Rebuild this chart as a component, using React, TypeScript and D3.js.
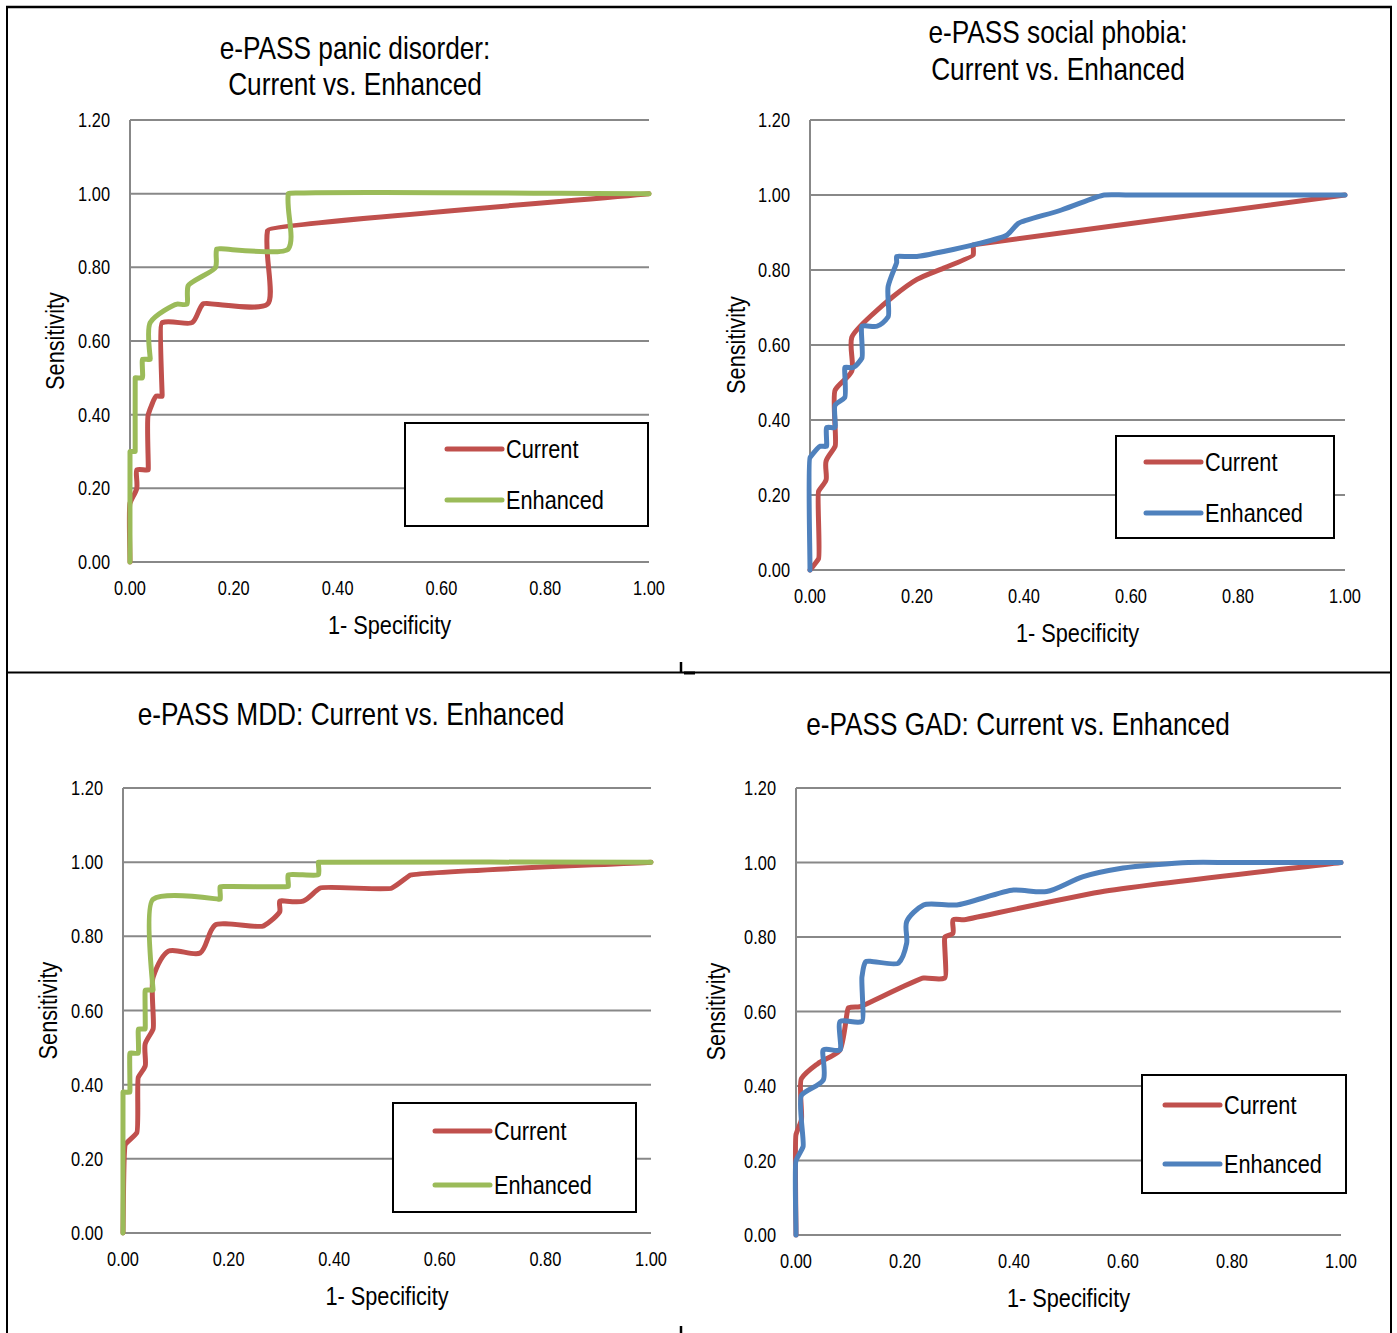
import React from "react";
import * as d3 from "d3";

// ROC points: [1 - specificity, sensitivity]
const panicCurrent: [number, number][] = [
  [0, 0], [0, 0.16], [0.013, 0.2], [0.013, 0.25], [0.035, 0.25], [0.035, 0.4],
  [0.05, 0.45], [0.062, 0.45], [0.062, 0.65], [0.12, 0.65], [0.14, 0.7],
  [0.265, 0.7], [0.265, 0.9], [1, 1],
];
const panicEnhanced: [number, number][] = [
  [0, 0], [0, 0.3], [0.01, 0.3], [0.01, 0.5], [0.024, 0.5], [0.024, 0.55],
  [0.039, 0.55], [0.039, 0.65], [0.09, 0.7], [0.11, 0.7], [0.112, 0.75],
  [0.165, 0.8], [0.167, 0.85], [0.305, 0.85], [0.305, 1.0], [1, 1],
];
const socialCurrent: [number, number][] = [
  [0, 0], [0.016, 0.03], [0.016, 0.21], [0.03, 0.24], [0.03, 0.29],
  [0.047, 0.33], [0.047, 0.48], [0.078, 0.53], [0.078, 0.62], [0.156, 0.73],
  [0.2, 0.775], [0.25, 0.805], [0.305, 0.84], [0.305, 0.867], [1, 1],
];
const socialEnhanced: [number, number][] = [
  [0, 0], [0, 0.3], [0.019, 0.33], [0.031, 0.33], [0.031, 0.38], [0.047, 0.38],
  [0.047, 0.44], [0.065, 0.46], [0.065, 0.54], [0.081, 0.54], [0.097, 0.565],
  [0.097, 0.65], [0.125, 0.65], [0.146, 0.675], [0.146, 0.756], [0.162, 0.82],
  [0.162, 0.836], [0.2, 0.836], [0.305, 0.867], [0.368, 0.893], [0.389, 0.924],
  [0.47, 0.96], [0.55, 1.0], [0.59, 1.0], [1, 1],
];
const mddCurrent: [number, number][] = [
  [0, 0], [0.005, 0.24], [0.026, 0.27], [0.029, 0.42], [0.042, 0.45],
  [0.042, 0.51], [0.057, 0.55], [0.057, 0.69], [0.086, 0.76], [0.146, 0.755],
  [0.174, 0.83], [0.266, 0.828], [0.297, 0.867], [0.297, 0.895], [0.341, 0.895],
  [0.373, 0.93], [0.509, 0.93], [0.544, 0.965], [1, 1],
];
const mddEnhanced: [number, number][] = [
  [0, 0], [0, 0.38], [0.013, 0.38], [0.013, 0.485], [0.029, 0.485],
  [0.029, 0.55], [0.042, 0.55], [0.042, 0.655], [0.057, 0.655], [0.057, 0.9],
  [0.184, 0.9], [0.184, 0.934], [0.313, 0.934], [0.313, 0.966], [0.37, 0.966],
  [0.37, 1.0], [1, 1],
];
const gadCurrent: [number, number][] = [
  [0, 0], [0, 0.27], [0.01, 0.31], [0.01, 0.42], [0.04, 0.46], [0.08, 0.495],
  [0.096, 0.61], [0.117, 0.613], [0.234, 0.69], [0.273, 0.69], [0.273, 0.8],
  [0.288, 0.81], [0.288, 0.846], [0.307, 0.846], [0.558, 0.921], [1, 1],
];
const gadEnhanced: [number, number][] = [
  [0, 0], [0, 0.2], [0.013, 0.237], [0.01, 0.375], [0.05, 0.416], [0.05, 0.497],
  [0.081, 0.497], [0.081, 0.573], [0.121, 0.573], [0.121, 0.693], [0.128, 0.734],
  [0.188, 0.73], [0.203, 0.783], [0.203, 0.841], [0.234, 0.886], [0.295, 0.886],
  [0.399, 0.926], [0.46, 0.922], [0.527, 0.962], [0.6, 0.985], [0.72, 1.0],
  [0.8, 1.0], [1, 1],
];

const yTicks = [0, 0.2, 0.4, 0.6, 0.8, 1.0, 1.2];
const xTicks = [0, 0.2, 0.4, 0.6, 0.8, 1.0];
const seriesNames = ["Current", "Enhanced"];

const RED = "#C0504D";
const GREEN = "#9BBB59";
const BLUE = "#4F81BD";
const GRID = "#888888";
const FONT = '"Liberation Sans", Arial, sans-serif';
const NARROW = 0.82; // Arial Narrow look

type PanelCfg = {
  title: string[];
  titleX: number;
  titleY: number[];
  plot: { x0: number; x1: number; top: number; bottom: number };
  yTitleX: number;
  legend: { x: number; y: number; w: number; h: number; rows: number[]; lx: number };
  series: [number, number][][];
  colors: string[];
};

const panels: PanelCfg[] = [
  {
    title: ["e-PASS panic disorder:", "Current vs. Enhanced"],
    titleX: 355, titleY: [48, 84],
    plot: { x0: 130, x1: 649, top: 120, bottom: 562 },
    yTitleX: 55,
    legend: { x: 405, y: 423, w: 243, h: 103, rows: [449, 500], lx: 447 },
    series: [panicCurrent, panicEnhanced],
    colors: [RED, GREEN],
  },
  {
    title: ["e-PASS social phobia:", "Current vs. Enhanced"],
    titleX: 1058, titleY: [32, 69],
    plot: { x0: 810, x1: 1345, top: 120, bottom: 570 },
    yTitleX: 736,
    legend: { x: 1116, y: 436, w: 218, h: 102, rows: [462, 513], lx: 1146 },
    series: [socialCurrent, socialEnhanced],
    colors: [RED, BLUE],
  },
  {
    title: ["e-PASS MDD: Current vs. Enhanced"],
    titleX: 351, titleY: [714],
    plot: { x0: 123, x1: 651, top: 788, bottom: 1233 },
    yTitleX: 48,
    legend: { x: 393, y: 1103, w: 243, h: 109, rows: [1131, 1185], lx: 435 },
    series: [mddCurrent, mddEnhanced],
    colors: [RED, GREEN],
  },
  {
    title: ["e-PASS GAD: Current vs. Enhanced"],
    titleX: 1018, titleY: [724],
    plot: { x0: 796, x1: 1341, top: 788, bottom: 1235 },
    yTitleX: 716,
    legend: { x: 1142, y: 1075, w: 204, h: 118, rows: [1105, 1164], lx: 1165 },
    series: [gadCurrent, gadEnhanced],
    colors: [RED, BLUE],
  },
];

// Excel-like smoothed line: cubic Bezier; the tangent at each point leans
// toward the shorter neighbouring segment, handles stay short and shrink
// when they point away from their segment
function smoothPath(pts: [number, number][]) {
  const dist = (a: number[], b: number[]) => Math.hypot(b[0] - a[0], b[1] - a[1]);
  const n = pts.length;
  const tan = pts.map((p, i) => {
    if (i === 0 || i === n - 1) {
      const a = pts[Math.max(0, i - 1)];
      const b = pts[Math.min(n - 1, i + 1)];
      const l = dist(a, b) || 1;
      return [(b[0] - a[0]) / l, (b[1] - a[1]) / l, l];
    }
    const a = pts[i - 1];
    const b = pts[i + 1];
    const l0 = dist(a, p) || 1;
    const l1 = dist(p, b) || 1;
    const w0 = l1 / (l0 + l1);
    const w1 = l0 / (l0 + l1);
    const tx = ((p[0] - a[0]) / l0) * w0 + ((b[0] - p[0]) / l1) * w1;
    const ty = ((p[1] - a[1]) / l0) * w0 + ((b[1] - p[1]) / l1) * w1;
    const tl = Math.hypot(tx, ty) || 1;
    return [tx / tl, ty / tl, dist(a, b)];
  });
  const k = 0.3;
  const path = d3.path();
  path.moveTo(pts[0][0], pts[0][1]);
  for (let i = 0; i < n - 1; i++) {
    const p = pts[i];
    const q = pts[i + 1];
    const L = dist(p, q) || 1;
    const ux = (q[0] - p[0]) / L;
    const uy = (q[1] - p[1]) / L;
    const Lprev = i > 0 ? dist(pts[i - 1], p) : L;
    const Lnext = i < n - 2 ? dist(q, pts[i + 2]) : L;
    const c1 = Math.abs(tan[i][0] * ux + tan[i][1] * uy);
    const c2 = Math.abs(tan[i + 1][0] * ux + tan[i + 1][1] * uy);
    const m1 = Math.min(tan[i][2] / 6, k * Math.min(L, Lprev)) * c1;
    const m2 = Math.min(tan[i + 1][2] / 6, k * Math.min(L, Lnext)) * c2;
    path.bezierCurveTo(
      p[0] + tan[i][0] * m1, p[1] + tan[i][1] * m1,
      q[0] - tan[i + 1][0] * m2, q[1] - tan[i + 1][1] * m2,
      q[0], q[1]
    );
  }
  return path.toString();
}

const NText = ({
  x, y, size, anchor = "start", rotate = 0, children,
}: { x: number; y: number; size: number; anchor?: string; rotate?: number; children: React.ReactNode }) => (
  <text
    transform={`translate(${x},${y}) rotate(${rotate}) scale(${NARROW},1)`}
    fontSize={size}
    textAnchor={anchor}
    dominantBaseline="central"
  >
    {children}
  </text>
);

const Panel = ({ cfg }: { cfg: PanelCfg }) => {
  const { plot, legend } = cfg;
  const x = d3.scaleLinear().domain([0, 1]).range([plot.x0, plot.x1]);
  const y = d3.scaleLinear().domain([0, 1.2]).range([plot.bottom, plot.top]);
  const fmt = d3.format(".2f");

  return (
    <g fontFamily={FONT}>
      {cfg.title.map((t, i) => (
        <NText key={t} x={cfg.titleX} y={cfg.titleY[i]} size={32} anchor="middle">
          {t}
        </NText>
      ))}
      {yTicks.map((v) => (
        <g key={v}>
          <line x1={plot.x0} x2={plot.x1} y1={y(v)} y2={y(v)} stroke={GRID} strokeWidth={2} />
          <NText x={plot.x0 - 20} y={y(v)} size={20} anchor="end">
            {fmt(v)}
          </NText>
        </g>
      ))}
      <line x1={plot.x0} x2={plot.x0} y1={plot.top} y2={plot.bottom} stroke={GRID} strokeWidth={2} />
      {xTicks.map((v) => (
        <NText key={v} x={x(v)} y={plot.bottom + 26} size={20} anchor="middle">
          {fmt(v)}
        </NText>
      ))}
      <NText x={(plot.x0 + plot.x1) / 2} y={plot.bottom + 63} size={26.5} anchor="middle">
        1- Specificity
      </NText>
      <NText x={cfg.yTitleX} y={(plot.top + plot.bottom) / 2} size={26.5} anchor="middle" rotate={-90}>
        Sensitivity
      </NText>
      <rect x={legend.x} y={legend.y} width={legend.w} height={legend.h} fill="white" stroke="black" strokeWidth={2} />
      {cfg.series.map((s, i) => (
        <path
          key={i}
          d={smoothPath(s.map((d) => [x(d[0]), y(d[1])] as [number, number]))}
          fill="none"
          stroke={cfg.colors[i]}
          strokeWidth={5}
          strokeLinejoin="round"
          strokeLinecap="round"
        />
      ))}
      {seriesNames.map((name, i) => (
        <g key={name}>
          <line
            x1={legend.lx}
            x2={legend.lx + 55}
            y1={legend.rows[i]}
            y2={legend.rows[i]}
            stroke={cfg.colors[i]}
            strokeWidth={5}
            strokeLinecap="round"
          />
          <NText x={legend.lx + 59} y={legend.rows[i]} size={26.5}>
            {name}
          </NText>
        </g>
      ))}
    </g>
  );
};

export default function App() {
  return (
    <svg
      width={1397}
      height={1333}
      style={{ position: "absolute", left: 0, top: 0, background: "white" }}
    >
      <rect width={1397} height={1333} fill="white" />
      {panels.map((p, i) => (
        <Panel key={i} cfg={p} />
      ))}
      <g stroke="black">
        <line x1={6} x2={1392} y1={7} y2={7} strokeWidth={2.5} />
        <line x1={7} x2={7} y1={6} y2={1333} strokeWidth={2} />
        <line x1={1391} x2={1391} y1={6} y2={1333} strokeWidth={2} />
        <line x1={7} x2={1391} y1={672.5} y2={672.5} strokeWidth={2} />
        <line x1={681} x2={681} y1={662} y2={672} strokeWidth={2.5} />
        <line x1={684} x2={695} y1={673} y2={673} strokeWidth={3} />
        <line x1={681} x2={681} y1={1326} y2={1333} strokeWidth={2.5} />
      </g>
    </svg>
  );
}
